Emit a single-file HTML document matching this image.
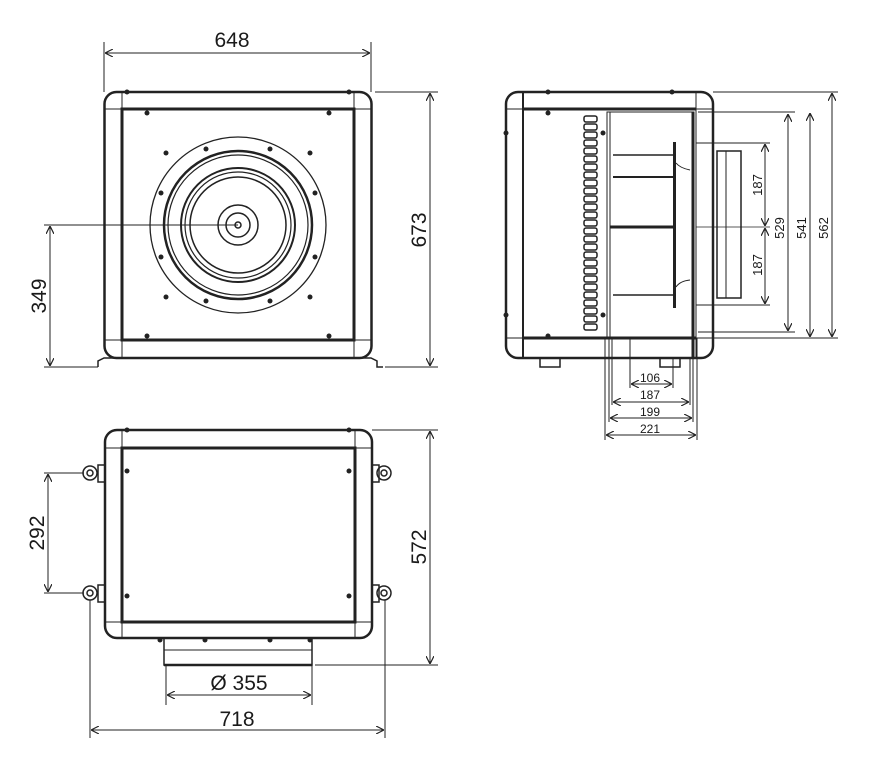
<!DOCTYPE html>
<html><head><meta charset="utf-8"><style>
html,body{margin:0;padding:0;background:#fff}
svg{display:block}
text{font-family:"Liberation Sans",sans-serif;fill:#1a1a1a}
</style></head><body>
<svg width="881" height="767" viewBox="0 0 881 767" xmlns="http://www.w3.org/2000/svg">
<defs>
<marker id="a" viewBox="0 0 10 10" refX="10" refY="5" markerWidth="8" markerHeight="8" orient="auto-start-reverse" markerUnits="userSpaceOnUse"><path d="M0,0 L10,5 L0,10" fill="none" stroke="#222" stroke-width="1.5"/></marker>
</defs>
<g stroke="#222" fill="none">
<!-- FRONT VIEW -->
<rect x="104.5" y="92" width="267" height="266" rx="12" stroke-width="2.5"/>
<line x1="122" y1="92" x2="122" y2="358" stroke-width="1"/>
<line x1="354" y1="92" x2="354" y2="358" stroke-width="1"/>
<line x1="104.5" y1="109" x2="371.5" y2="109" stroke-width="1"/>
<line x1="104.5" y1="340" x2="371.5" y2="340" stroke-width="1"/>
<rect x="122" y="109" width="232" height="231" stroke-width="3"/>
<path d="M98,367 L98,361 L104,358 L371,358 L377,361 L377,367 L383,367" stroke-width="1.5"/>
<line x1="92" y1="367" x2="98" y2="367" stroke-width="1"/>
<circle cx="238" cy="225" r="88" stroke-width="1.3"/>
<circle cx="238" cy="225" r="74" stroke-width="2.5"/>
<circle cx="238" cy="225" r="70" stroke-width="1.2"/>
<circle cx="238" cy="225" r="57" stroke-width="2"/>
<circle cx="238" cy="225" r="53" stroke-width="1.2"/>
<circle cx="238" cy="225" r="48" stroke-width="1.5"/>
<circle cx="238" cy="225" r="20" stroke-width="1.5"/>
<circle cx="238" cy="225" r="12" stroke-width="1.5"/>
<circle cx="238" cy="225" r="3" stroke-width="1.5"/>
<g fill="#222" stroke="none">
<circle cx="206" cy="149" r="2.5"/><circle cx="270" cy="149" r="2.5"/>
<circle cx="161" cy="193" r="2.5"/><circle cx="315" cy="193" r="2.5"/>
<circle cx="161" cy="257" r="2.5"/><circle cx="315" cy="257" r="2.5"/>
<circle cx="206" cy="301" r="2.5"/><circle cx="270" cy="301" r="2.5"/>
<circle cx="166" cy="153" r="2.5"/><circle cx="310" cy="153" r="2.5"/>
<circle cx="166" cy="297" r="2.5"/><circle cx="310" cy="297" r="2.5"/>
<circle cx="147" cy="113" r="2.5"/><circle cx="329" cy="113" r="2.5"/>
<circle cx="147" cy="336" r="2.5"/><circle cx="329" cy="336" r="2.5"/>
<circle cx="127" cy="92" r="2.5"/><circle cx="349" cy="92" r="2.5"/>
</g>
<g stroke-width="1">
<line x1="104" y1="42" x2="104" y2="92"/><line x1="371" y1="42" x2="371" y2="92"/>
<line x1="105" y1="53" x2="370" y2="53" marker-start="url(#a)" marker-end="url(#a)"/>
<line x1="375" y1="92" x2="438" y2="92"/><line x1="385" y1="367" x2="438" y2="367"/>
<line x1="430" y1="93" x2="430" y2="366" marker-start="url(#a)" marker-end="url(#a)"/>
<line x1="44" y1="225" x2="238" y2="225"/><line x1="44" y1="367" x2="92" y2="367"/>
<line x1="50" y1="226" x2="50" y2="366" marker-start="url(#a)" marker-end="url(#a)"/>
</g>

<!-- SIDE VIEW -->
<rect x="506" y="92" width="207" height="266" rx="12" stroke-width="2.5"/>
<line x1="523" y1="92" x2="523" y2="358" stroke-width="2"/>
<line x1="696" y1="92" x2="696" y2="358" stroke-width="1"/>
<line x1="506" y1="109" x2="713" y2="109" stroke-width="1"/>
<line x1="506" y1="338" x2="713" y2="338" stroke-width="1"/>
<line x1="523" y1="109" x2="696" y2="109" stroke-width="3"/>
<line x1="523" y1="338" x2="696" y2="338" stroke-width="3"/>
<rect x="607" y="112" width="87" height="226" stroke-width="1"/>
<line x1="610" y1="112" x2="610" y2="338" stroke-width="1"/>
<line x1="693" y1="112" x2="693" y2="358" stroke-width="3"/>
<g stroke-width="1.5">
<rect x="584" y="116" width="13" height="6" rx="2"/><rect x="584" y="124" width="13" height="6" rx="2"/><rect x="584" y="132" width="13" height="6" rx="2"/><rect x="584" y="140" width="13" height="6" rx="2"/><rect x="584" y="148" width="13" height="6" rx="2"/><rect x="584" y="156" width="13" height="6" rx="2"/><rect x="584" y="164" width="13" height="6" rx="2"/><rect x="584" y="172" width="13" height="6" rx="2"/><rect x="584" y="180" width="13" height="6" rx="2"/><rect x="584" y="188" width="13" height="6" rx="2"/><rect x="584" y="196" width="13" height="6" rx="2"/><rect x="584" y="204" width="13" height="6" rx="2"/><rect x="584" y="212" width="13" height="6" rx="2"/><rect x="584" y="220" width="13" height="6" rx="2"/><rect x="584" y="228" width="13" height="6" rx="2"/><rect x="584" y="236" width="13" height="6" rx="2"/><rect x="584" y="244" width="13" height="6" rx="2"/><rect x="584" y="252" width="13" height="6" rx="2"/><rect x="584" y="260" width="13" height="6" rx="2"/><rect x="584" y="268" width="13" height="6" rx="2"/><rect x="584" y="276" width="13" height="6" rx="2"/><rect x="584" y="284" width="13" height="6" rx="2"/><rect x="584" y="292" width="13" height="6" rx="2"/><rect x="584" y="300" width="13" height="6" rx="2"/><rect x="584" y="308" width="13" height="6" rx="2"/><rect x="584" y="316" width="13" height="6" rx="2"/><rect x="584" y="324" width="13" height="6" rx="2"/>
</g>
<rect x="673" y="142" width="3" height="166" fill="#222" stroke="none"/>
<line x1="613" y1="155" x2="674" y2="155" stroke-width="1.5"/>
<line x1="613" y1="177" x2="674" y2="177" stroke-width="2"/>
<line x1="610" y1="227" x2="674" y2="227" stroke-width="3"/>
<line x1="613" y1="295" x2="674" y2="295" stroke-width="1.5"/>
<path d="M676,163 Q680,168 690,170" stroke-width="1"/>
<path d="M676,287 Q680,281 690,280" stroke-width="1"/>
<rect x="717" y="151" width="24" height="147" stroke-width="1.5"/>
<line x1="726" y1="151" x2="726" y2="298" stroke-width="1"/>
<line x1="696" y1="143" x2="770" y2="143" stroke-width="1"/>
<line x1="696" y1="305" x2="770" y2="305" stroke-width="1"/>
<line x1="696" y1="227" x2="770" y2="227" stroke-width="0.8"/>
<g fill="#222" stroke="none">
<circle cx="548" cy="113" r="2.5"/><circle cx="548" cy="336" r="2.5"/>
<circle cx="603" cy="133" r="2.5"/><circle cx="603" cy="315" r="2.5"/>
<circle cx="548" cy="92" r="2.5"/><circle cx="672" cy="92" r="2.5"/>
<circle cx="506" cy="133" r="2.5"/><circle cx="506" cy="315" r="2.5"/>
</g>
<rect x="540" y="358" width="20" height="9" stroke-width="1.5"/>
<rect x="660" y="358" width="20" height="9" stroke-width="1.5"/>
<g stroke-width="1">
<line x1="698" y1="112" x2="795" y2="112"/><line x1="698" y1="332" x2="795" y2="332"/>
<line x1="713" y1="92" x2="838" y2="92"/><line x1="713" y1="338" x2="838" y2="338"/>
<line x1="765" y1="144" x2="765" y2="226" marker-start="url(#a)" marker-end="url(#a)"/>
<line x1="765" y1="228" x2="765" y2="304" marker-start="url(#a)" marker-end="url(#a)"/>
<line x1="788" y1="114" x2="788" y2="331" marker-start="url(#a)" marker-end="url(#a)"/>
<line x1="810" y1="113" x2="810" y2="337" marker-start="url(#a)" marker-end="url(#a)"/>
<line x1="832" y1="93" x2="832" y2="337" marker-start="url(#a)" marker-end="url(#a)"/>
<line x1="605" y1="338" x2="605" y2="440"/><line x1="697" y1="338" x2="697" y2="440"/>
<line x1="609" y1="338" x2="609" y2="422"/><line x1="693" y1="358" x2="693" y2="422"/>
<line x1="612" y1="338" x2="612" y2="405"/><line x1="690" y1="358" x2="690" y2="405"/>
<line x1="630" y1="338" x2="630" y2="388"/><line x1="673" y1="358" x2="673" y2="388"/>
<line x1="631" y1="384" x2="672" y2="384" marker-start="url(#a)" marker-end="url(#a)"/>
<line x1="613" y1="402" x2="689" y2="402" marker-start="url(#a)" marker-end="url(#a)"/>
<line x1="610" y1="418" x2="692" y2="418" marker-start="url(#a)" marker-end="url(#a)"/>
<line x1="606" y1="435" x2="696" y2="435" marker-start="url(#a)" marker-end="url(#a)"/>
</g>

<!-- TOP VIEW -->
<rect x="105" y="430" width="267" height="208" rx="12" stroke-width="2.5"/>
<line x1="122" y1="430" x2="122" y2="638" stroke-width="1"/>
<line x1="355" y1="430" x2="355" y2="638" stroke-width="1"/>
<line x1="105" y1="448" x2="372" y2="448" stroke-width="1"/>
<line x1="105" y1="622" x2="372" y2="622" stroke-width="1"/>
<rect x="122" y="448" width="233" height="174" stroke-width="3"/>
<g fill="#222" stroke="none">
<circle cx="127" cy="471" r="2.5"/><circle cx="349" cy="471" r="2.5"/>
<circle cx="127" cy="596" r="2.5"/><circle cx="349" cy="596" r="2.5"/>
<circle cx="127" cy="430" r="2.5"/><circle cx="349" cy="430" r="2.5"/>
<circle cx="160" cy="640" r="2.5"/><circle cx="205" cy="640" r="2.5"/><circle cx="270" cy="640" r="2.5"/><circle cx="310" cy="640" r="2.5"/>
</g>
<g stroke-width="1.5">
<circle cx="90" cy="473" r="7"/><circle cx="90" cy="473" r="3"/>
<circle cx="90" cy="593" r="7"/><circle cx="90" cy="593" r="3"/>
<circle cx="384" cy="473" r="7"/><circle cx="384" cy="473" r="3"/>
<circle cx="384" cy="593" r="7"/><circle cx="384" cy="593" r="3"/>
<rect x="98" y="465" width="7" height="17"/><rect x="98" y="585" width="7" height="17"/>
<rect x="372" y="465" width="7" height="17"/><rect x="372" y="585" width="7" height="17"/>
</g>
<rect x="164" y="638" width="148" height="27" stroke-width="1.5"/>
<line x1="164" y1="650" x2="312" y2="650" stroke-width="1"/>
<line x1="164" y1="665" x2="312" y2="665" stroke-width="2.5"/>
<g stroke-width="1">
<line x1="372" y1="430" x2="438" y2="430"/><line x1="315" y1="665" x2="438" y2="665"/>
<line x1="430" y1="431" x2="430" y2="664" marker-start="url(#a)" marker-end="url(#a)"/>
<line x1="44" y1="473" x2="84" y2="473"/><line x1="44" y1="593" x2="84" y2="593"/>
<line x1="48" y1="474" x2="48" y2="592" marker-start="url(#a)" marker-end="url(#a)"/>
<line x1="166" y1="665" x2="166" y2="705"/><line x1="312" y1="665" x2="312" y2="705"/>
<line x1="167" y1="695" x2="311" y2="695" marker-start="url(#a)" marker-end="url(#a)"/>
<line x1="90" y1="600" x2="90" y2="738"/><line x1="385" y1="600" x2="385" y2="738"/>
<line x1="91" y1="730" x2="384" y2="730" marker-start="url(#a)" marker-end="url(#a)"/>
</g>
</g>
<text x="232" y="47" font-size="21" text-anchor="middle">648</text>
<text transform="translate(426,230) rotate(-90)" font-size="21" text-anchor="middle">673</text>
<text transform="translate(46,296) rotate(-90)" font-size="21" text-anchor="middle">349</text>
<text transform="translate(426,547) rotate(-90)" font-size="21" text-anchor="middle">572</text>
<text transform="translate(44,533) rotate(-90)" font-size="21" text-anchor="middle">292</text>
<text x="239" y="690" font-size="21" text-anchor="middle">Ø 355</text>
<text x="237" y="726" font-size="21" text-anchor="middle">718</text>
<text transform="translate(762,185) rotate(-90)" font-size="13" text-anchor="middle">187</text>
<text transform="translate(762,265) rotate(-90)" font-size="13" text-anchor="middle">187</text>
<text transform="translate(784,228) rotate(-90)" font-size="13" text-anchor="middle">529</text>
<text transform="translate(806,228) rotate(-90)" font-size="13" text-anchor="middle">541</text>
<text transform="translate(828,228) rotate(-90)" font-size="13" text-anchor="middle">562</text>
<text x="650" y="382" font-size="12" text-anchor="middle">106</text>
<text x="650" y="399" font-size="12" text-anchor="middle">187</text>
<text x="650" y="416" font-size="12" text-anchor="middle">199</text>
<text x="650" y="433" font-size="12" text-anchor="middle">221</text>
</svg>
</body></html>
